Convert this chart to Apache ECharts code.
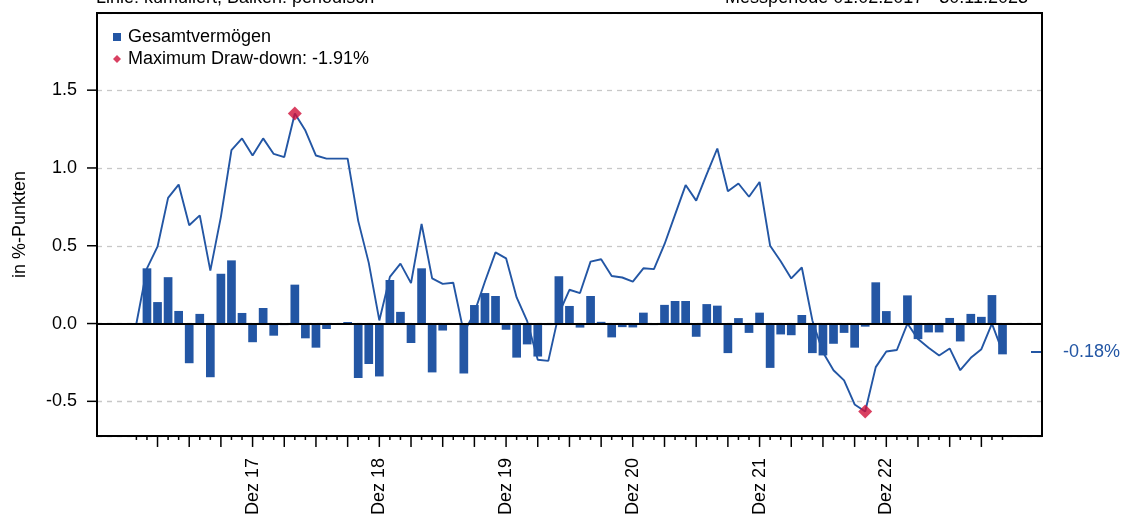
<!DOCTYPE html>
<html>
<head>
    <meta charset="UTF-8">
    <title>Gesamtvermögen</title>
    <script src="https://cdn.jsdelivr.net/npm/echarts@6/dist/echarts.min.js"></script>
    <style type="text/css">
        html, body { margin: 0; padding: 0; background: #fff; }
        #chart { width: 1124px; height: 518px; }
    </style>
</head>
<body>
    <div id="chart"></div>
    <script>
    // Monat 0 = Jan 2017 (Startpunkt), 1..82 = Feb 2017 .. Nov 2023
    var periodisch = [
        0.355, 0.138, 0.298, 0.081, -0.255, 0.062, -0.345, 0.32, 0.406, 0.068,
        -0.12, 0.10, -0.078, -0.01, 0.25, -0.095, -0.155, -0.035, 0.003, 0.01,
        -0.35, -0.26, -0.34, 0.28, 0.075, -0.125, 0.355, -0.314, -0.045, 0.0,
        -0.321, 0.119, 0.196, 0.177, -0.04, -0.219, -0.134, -0.212, -0.01, 0.304,
        0.113, -0.026, 0.177, 0.011, -0.089, -0.023, -0.025, 0.07, -0.01, 0.12,
        0.145, 0.145, -0.085, 0.125, 0.115, -0.19, 0.035, -0.06, 0.07, -0.285,
        -0.07, -0.075, 0.055, -0.19, -0.205, -0.13, -0.06, -0.155, -0.02, 0.265,
        0.08, 0.0, 0.181, -0.1, -0.057, -0.057, 0.036, -0.115, 0.062, 0.043,
        0.183, -0.198
    ];
    var kumuliert = [
        0, 0.355, 0.494, 0.808, 0.893, 0.632, 0.695, 0.34, 0.686, 1.114,
        1.19, 1.08, 1.19, 1.09, 1.07, 1.35, 1.24, 1.08, 1.06, 1.06,
        1.06, 0.66, 0.39, 0.02, 0.30, 0.385, 0.26, 0.64, 0.29, 0.255,
        0.262, -0.06, 0.07, 0.27, 0.457, 0.419, 0.168, 0.015, -0.233, -0.24,
        0.064, 0.217, 0.196, 0.398, 0.413, 0.306, 0.296, 0.27, 0.355, 0.35,
        0.51, 0.70, 0.89, 0.79, 0.96, 1.125, 0.85, 0.90, 0.815, 0.91,
        0.50, 0.40, 0.29, 0.36, 0.02, -0.185, -0.30, -0.365, -0.52, -0.565,
        -0.28, -0.18, -0.17, 0.0, -0.10, -0.155, -0.205, -0.16, -0.30, -0.22,
        -0.165, 0.0, -0.18
    ];
    var drawdownIdx = [15, 69];
    var dezIdx = [11, 23, 35, 47, 59, 71];
    var dezLabels = ['Dez 17', 'Dez 18', 'Dez 19', 'Dez 20', 'Dez 21', 'Dez 22'];
    var yTicks = [-0.5, 0, 0.5, 1.0, 1.5];

    var blau = '#2356a4';
    var rot = '#d0103a';
    var font = 'Liberation Sans, Arial, sans-serif';
    var xMin = -3.73, xMax = 85.74, yMin = -0.7226, yMax = 1.996;

    var barData = periodisch.map(function (v, i) { return [i + 1, v]; });
    var lineData = kumuliert.map(function (v, i) { return [i, v]; });
    var ddData = drawdownIdx.map(function (i) { return [i, kumuliert[i]]; });
    var letzter = kumuliert[kumuliert.length - 1];

    var chart = echarts.init(document.getElementById('chart'));
    var option = {
        animation: false,
        textStyle: { fontFamily: font },
        grid: { left: 97, right: 82, top: 13, bottom: 79, show: false },
        graphic: [
            { id: 't1', type: 'text', left: 96, top: -11,
              style: { text: 'Linie: kumuliert, Balken: periodisch', font: '18px ' + font, fill: '#000' } },
            { id: 't2', type: 'text', right: 96, top: -11,
              style: { text: 'Messperiode 01.02.2017 - 30.11.2023', font: '18px ' + font, fill: '#000' } }
        ],
        legend: {
            orient: 'vertical', left: 108, top: 23,
            itemWidth: 8, itemHeight: 8, itemGap: 4,
            textStyle: { fontSize: 18, color: '#000', fontFamily: font, padding: [0, 0, 0, 2] },
            data: [
                { name: 'Gesamtvermögen', icon: 'rect' },
                { name: 'Maximum Draw-down: -1.91%', icon: 'diamond' }
            ]
        },
        xAxis: {
            type: 'value', min: xMin, max: xMax, position: 'bottom',
            axisLine: { show: false, onZero: false },
            splitLine: { show: false },
            axisTick: { show: false },
            axisLabel: {
                show: true, customValues: dezIdx, rotate: 90, margin: 22,
                fontSize: 18, color: '#000', fontFamily: font,
                formatter: function (v) { return dezLabels[dezIdx.indexOf(Math.round(v))] || ''; }
            }
        },
        yAxis: [{
            type: 'value', min: yMin, max: yMax, position: 'left',
            name: 'in %-Punkten', nameLocation: 'middle', nameGap: 68,
            nameTextStyle: { fontSize: 18, color: '#000', fontFamily: font },
            axisLine: { show: false, onZero: false },
            axisTick: { show: false },
            axisLabel: {
                show: true, customValues: yTicks, margin: 20, fontSize: 18, color: '#000', fontFamily: font,
                formatter: function (v) { return v.toFixed(1); }
            },
            splitLine: { show: true, lineStyle: { color: '#c8c8c8', width: 1.3, type: [5, 5] } }
        }, {
            type: 'value', min: yMin, max: yMax, position: 'right',
            axisLine: { show: false, onZero: false },
            splitLine: { show: false },
            axisTick: { show: true, customValues: [letzter], inside: true, length: 11, lineStyle: { color: blau, width: 2 } },
            axisLabel: {
                show: true, customValues: [letzter], margin: 21, fontSize: 18, color: blau, fontFamily: font,
                formatter: function (v) { return v.toFixed(2) + '%'; }
            }
        }],
        series: [{
            name: 'Gesamtvermögen',
            type: 'bar',
            barWidth: 8.7,
            itemStyle: { color: blau },
            data: barData,
            markLine: {
                silent: true, symbol: 'none',
                label: { show: false },
                lineStyle: { color: '#000', width: 2, type: 'solid' },
                data: [{ yAxis: 0 }]
            },
            z: 2
        }, {
            name: 'kumuliert',
            type: 'line',
            showSymbol: false,
            lineStyle: { color: blau, width: 1.9 },
            itemStyle: { color: blau },
            data: lineData,
            z: 3
        }, {
            name: 'Maximum Draw-down: -1.91%',
            type: 'scatter',
            symbol: 'diamond',
            symbolSize: 14,
            itemStyle: { color: rot },
            data: ddData,
            z: 4
        }]
    };
    chart.setOption(option);

    // Rahmen und Achsenstriche ueber die Achsenskalen des Diagramms
    function px(x, y) { return chart.convertToPixel({ gridIndex: 0 }, [x, y]); }
    var lu = px(xMin, yMin), ro = px(xMax, yMax);
    var striche = [{
        id: 'rahmen', type: 'rect', z: 100, silent: true,
        shape: { x: lu[0], y: ro[1], width: ro[0] - lu[0], height: lu[1] - ro[1] },
        style: { fill: 'none', stroke: '#000', lineWidth: 2 }
    }];
    for (var m = 0; m < kumuliert.length; m++) {
        var mx = px(m, yMin)[0];
        striche.push({
            id: 'xt' + m, type: 'line', z: 100, silent: true,
            shape: { x1: mx, y1: lu[1], x2: mx, y2: lu[1] + (m % 3 === 2 ? 11 : 4) },
            style: { stroke: '#000', lineWidth: 1.5 }
        });
    }
    yTicks.forEach(function (v, i) {
        var yy = px(xMin, v)[1];
        striche.push({
            id: 'yt' + i, type: 'line', z: 100, silent: true,
            shape: { x1: lu[0] - 10, y1: yy, x2: lu[0], y2: yy },
            style: { stroke: '#000', lineWidth: 1.5 }
        });
    });
    chart.setOption({ graphic: striche });
    </script>
</body>
</html>
